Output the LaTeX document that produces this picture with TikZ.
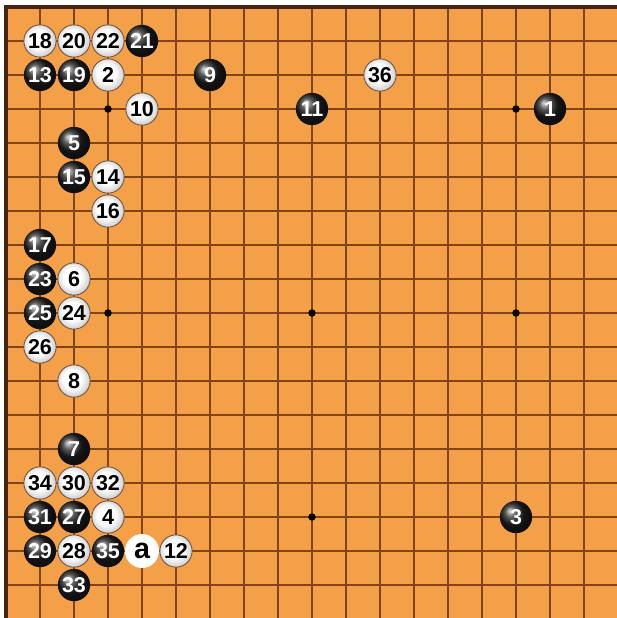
\documentclass[tikz,border=0pt]{standalone}
\usepackage{fontspec}
\setmainfont{Liberation Sans}
\definecolor{board}{RGB}{244,160,72}
\definecolor{gridbrown}{RGB}{130,68,22}
\definecolor{edgebrown}{RGB}{70,36,14}
\pgfdeclareradialshading{wball}{\pgfpoint{-4bp}{4bp}}{color(0bp)=(white); color(14bp)=(white);
    color(27bp)=(black!20); color(36bp)=(black!42); color(50bp)=(black!42)}
\pgfdeclareradialshading{spotglow}{\pgfpoint{0bp}{0bp}}{color(0bp)=(white); color(28bp)=(white);
    color(36bp)=(white!70!board); color(50bp)=(white!70!board)}
\begin{document}
\begin{tikzpicture}[
    bstone/.style={circle, minimum size=0.95cm, inner sep=0pt, ball color=black!88,
        text=white, font=\fontsize{18}{18}\selectfont\bfseries},
    wstone/.style={circle, minimum size=0.95cm, inner sep=0pt, draw=edgebrown!80, line width=0.7pt,
        shading=wball, text=black, font=\fontsize{18}{18}\selectfont\bfseries},
    spot/.style={circle, minimum size=1.0cm, inner sep=0pt, shading=spotglow,
        text=black, font=\fontsize{24}{24}\selectfont\bfseries}]
    % Board and margins
    \useasboundingbox (-0.176,0.206) rectangle (17.97,-17.97);
    \clip (-0.176,0.206) rectangle (17.97,-17.97);
    \fill[board] (0,0) rectangle (18.5,-18.5);

    % Grid lines and edges
    \draw[gridbrown, line width=1.6pt] (0,-18) grid (18,0);
    \draw[edgebrown, line width=2.6pt] (0,-18.5) -- (0,0) -- (18.5,0);

    % Star points
    \foreach \c in {3,9,15} \foreach \r in {3,9,15} \fill[black] (\c,-\r) circle (0.11);

    % Black stones (column/row/move)
    \foreach \c/\r/\n in {17/4/1, 16/16/3, 3/5/5, 3/14/7, 7/3/9, 10/4/11, 2/3/13, 3/6/15,
        2/8/17, 3/3/19, 5/2/21, 2/9/23, 2/10/25, 3/16/27, 2/17/29, 2/16/31, 3/18/33, 4/17/35}
        \node[bstone] (m\n) at (\c-1,1-\r) {\n};

    % White stones (column/row/move)
    \foreach \c/\r/\n in {4/3/2, 4/16/4, 3/9/6, 3/12/8, 5/4/10, 6/17/12, 4/6/14, 4/7/16,
        2/2/18, 3/2/20, 4/2/22, 3/10/24, 2/11/26, 3/17/28, 3/15/30, 4/15/32, 2/15/34, 12/3/36}
        \node[wstone] (m\n) at (\c-1,1-\r) {\n};

    % Marked point
    \node[spot] (pa) at (4,-16) {a};
\end{tikzpicture}
\end{document}
